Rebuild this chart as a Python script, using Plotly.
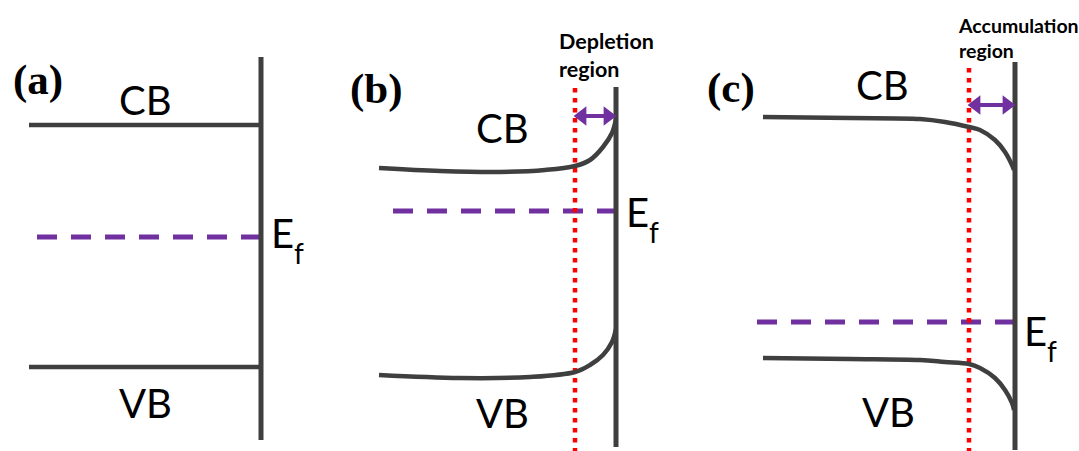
import plotly.graph_objects as go

# ---- data (pixel-space coordinates) ----
panel_labels = ["(a)", "(b)", "(c)"]
panel_label_x = [38, 376, 731]
panel_label_y = [80, 89, 88]

# surfaces (vertical lines)
surf_x = [261, 616, 1015]
surf_top = [57, 87, 62]
surf_bot = [440, 447, 450]

# Fermi levels
ef_y = [237, 211, 322]
ef_x0 = [37, 393, 757]
ef_x1 = [261, 616, 1015]
ef_label_x = [270, 625, 1023]
ef_label_y = [233, 212, 331]

# panel (a) flat bands
a_cb_x = [29, 261]
a_cb_y = [125, 125]
a_vb_x = [29, 261]
a_vb_y = [367, 367]

# panel (b) bands (upward bending, depletion)
b_cb_x = [379, 440, 500, 545, 575, 590, 603, 612, 616]
b_cb_y = [168, 171, 172, 170, 166, 160, 147, 133, 119]
b_vb_x = [379, 460, 530, 575, 590, 603, 612, 616]
b_vb_y = [375, 378, 377, 372, 365, 355, 342, 329]

# panel (c) bands (downward bending, accumulation)
c_cb_x = [763, 850, 920, 945, 969, 980, 995, 1005, 1012, 1014]
c_cb_y = [117, 118, 119, 122, 127, 130, 140, 152, 165, 170]
c_vb_x = [763, 850, 920, 945, 969, 980, 995, 1005, 1012, 1014]
c_vb_y = [358, 359, 360, 362, 364, 368, 378, 390, 403, 410]

# region boundaries (red dotted)
region_x = [575, 969]
region_top = [88, 68]
region_bot = [451, 451]
arrow_y = [116, 105]
arrow_x1 = [615, 1014]
region_names = ["Depletion<br>region", "Accumulation<br>region"]
region_name_x = [557, 956]
region_name_y = [26, 12]
region_name_size = [21.5, 19.5]

band_labels = ["CB", "VB", "CB", "VB", "CB", "VB"]
band_label_x = [145, 145, 502, 502, 882, 888]
band_label_y = [100, 403, 128, 413, 85, 412]

BAND = "#3f3f3f"
PURPLE = "#7030A0"
RED = "#FF0000"
HEAD = 17  # arrowhead marker size (px)

fig = go.Figure()

def line(x, y, color=BAND, width=4.5, dash="solid", shape="linear"):
    fig.add_trace(go.Scatter(x=x, y=y, mode="lines",
                             line=dict(color=color, width=width, dash=dash,
                                       shape=shape, smoothing=1.0),
                             hoverinfo="skip", showlegend=False))

# Fermi levels
for x0, x1, y in zip(ef_x0, ef_x1, ef_y):
    line([x0, x1], [y, y], color=PURPLE, width=5, dash="20px,14px")

# red dotted region lines
for x, t, b in zip(region_x, region_top, region_bot):
    line([x, x], [t, b], color=RED, width=4.5, dash="4.5px,5.5px")

# bands
line(a_cb_x, a_cb_y)
line(a_vb_x, a_vb_y)
line(b_cb_x, b_cb_y, shape="spline")
line(b_vb_x, b_vb_y, shape="spline")
line(c_cb_x, c_cb_y, shape="spline")
line(c_vb_x, c_vb_y, shape="spline")

# surfaces
for x, t, b in zip(surf_x, surf_top, surf_bot):
    line([x, x], [t, b], width=5)

# double-headed arrows: shaft + two triangle heads
for x0, x1, y in zip(region_x, arrow_x1, arrow_y):
    line([x0 + 6, x1 - 6], [y, y], color=PURPLE, width=4)
    fig.add_trace(go.Scatter(
        x=[x0 + HEAD * 0.42, x1 - HEAD * 0.42], y=[y, y], mode="markers",
        marker=dict(symbol=["triangle-left", "triangle-right"], size=HEAD,
                    color=PURPLE, line=dict(width=0)),
        hoverinfo="skip", showlegend=False))

ann = []
for t, x, y in zip(panel_labels, panel_label_x, panel_label_y):
    ann.append(dict(x=x, y=y, text="<b>" + t + "</b>", showarrow=False,
                    font=dict(family="Liberation Serif", size=43, color="black"),
                    xanchor="center", yanchor="middle"))
for t, x, y in zip(band_labels, band_label_x, band_label_y):
    ann.append(dict(x=x, y=y, text=t, showarrow=False,
                    font=dict(family="Lato", size=40, color="black"),
                    xanchor="center", yanchor="middle"))
for x, y in zip(ef_label_x, ef_label_y):
    ann.append(dict(x=x, y=y, text="E", showarrow=False,
                    font=dict(family="Lato", size=40, color="black"),
                    xanchor="left", yanchor="middle", borderpad=0))
    ann.append(dict(x=x + 23, y=y + 20, text="f", showarrow=False,
                    font=dict(family="Lato", size=28, color="black"),
                    xanchor="left", yanchor="middle", borderpad=0))
for t, x, y, s in zip(region_names, region_name_x, region_name_y, region_name_size):
    ann.append(dict(x=x, y=y, text="<b>" + t + "</b>", showarrow=False, align="left",
                    font=dict(family="Lato", size=s, color="black"),
                    xanchor="left", yanchor="top"))

fig.update_layout(
    width=1079, height=451,
    margin=dict(l=0, r=0, t=0, b=0),
    paper_bgcolor="white", plot_bgcolor="white",
    xaxis=dict(range=[0, 1079], visible=False, fixedrange=True),
    yaxis=dict(range=[451, 0], visible=False, fixedrange=True),
    annotations=ann,
    showlegend=False,
)

fig.write_html("out.html")
